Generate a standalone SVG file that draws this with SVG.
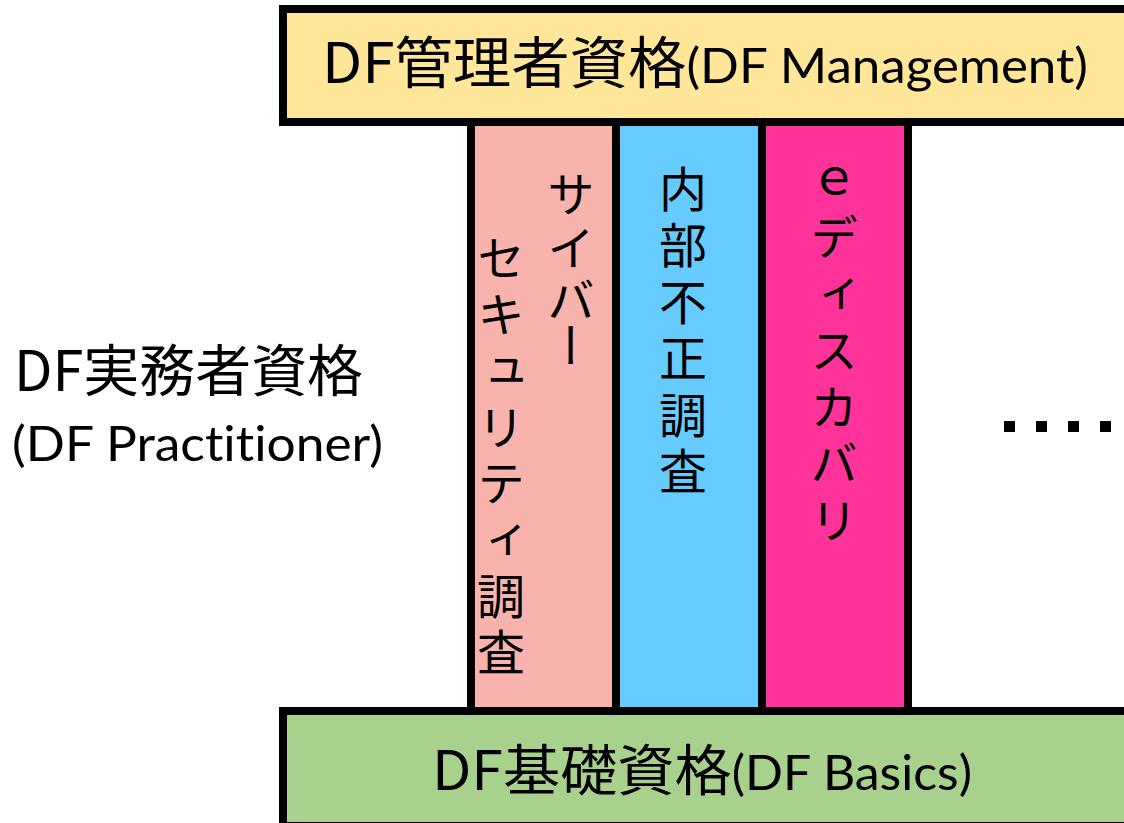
<svg xmlns="http://www.w3.org/2000/svg" width="1124" height="823" viewBox="0 0 1124 823">
<style>
.box{stroke:#000;stroke-width:8}
.cjk{font-family:"Noto Sans CJK JP","Noto Sans CJK SC",sans-serif}
.lat{font-family:Lato,"Liberation Sans",sans-serif;font-variant-ligatures:none;font-feature-settings:"liga" 0,"dlig" 0}
.lbl{fill:#000}
.v{font-family:"Noto Sans CJK JP","Noto Sans CJK SC",sans-serif;font-size:48px;writing-mode:vertical-rl;fill:#000}
</style>
<rect width="1124" height="823" fill="#fff"/>
<g id="columns">
  <g id="col-cyber">
    <rect class="box" x="471" y="122" width="145" height="589" fill="#F8B4AC"/>
    <text class="v" x="571" y="170 224 276 322">サイバー</text>
    <text class="v" x="501" y="234 290 347 403 459 516 572 628">セキュリティ調査</text>
  </g>
  <g id="col-internal">
    <rect class="box" x="616" y="122" width="146" height="589" fill="#66CCFF"/>
    <text class="v" x="683" y="165 221 278 334 391 447">内部不正調査</text>
  </g>
  <g id="col-ediscovery">
    <rect class="box" x="762" y="122" width="146" height="589" fill="#FF3399"/>
    <text class="v" x="834" y="157 213 270 326 383 439 496">ｅディスカバリ</text>
  </g>
</g>
<g id="management">
  <rect class="box" x="283" y="9" width="900" height="113" fill="#FFE699"/>
  <text class="lbl" x="322" y="83" textLength="766" lengthAdjust="spacingAndGlyphs"><tspan class="cjk" font-size="56">DF管理者資格</tspan><tspan class="lat" font-size="49">(DF Management)</tspan></text>
</g>
<g id="basics">
  <rect class="box" x="283" y="711" width="900" height="115" fill="#A9D18E"/>
  <text class="lbl" x="432" y="790" textLength="540" lengthAdjust="spacingAndGlyphs"><tspan class="cjk" font-size="55">DF基礎資格</tspan><tspan class="lat" font-size="48">(DF Basics)</tspan></text>
</g>
<g id="practitioner">
  <text class="lbl cjk" x="14" y="391" font-size="56" textLength="349" lengthAdjust="spacingAndGlyphs">DF実務者資格</text>
  <text class="lbl lat" x="12" y="461" font-size="48" textLength="371" lengthAdjust="spacingAndGlyphs">(DF Practitioner)</text>
</g>
<g id="ellipsis" fill="#000">
  <rect x="1004" y="421" width="11" height="11"/>
  <rect x="1036" y="421" width="11" height="11"/>
  <rect x="1068" y="421" width="11" height="11"/>
  <rect x="1100" y="421" width="11" height="11"/>
</g>
</svg>
